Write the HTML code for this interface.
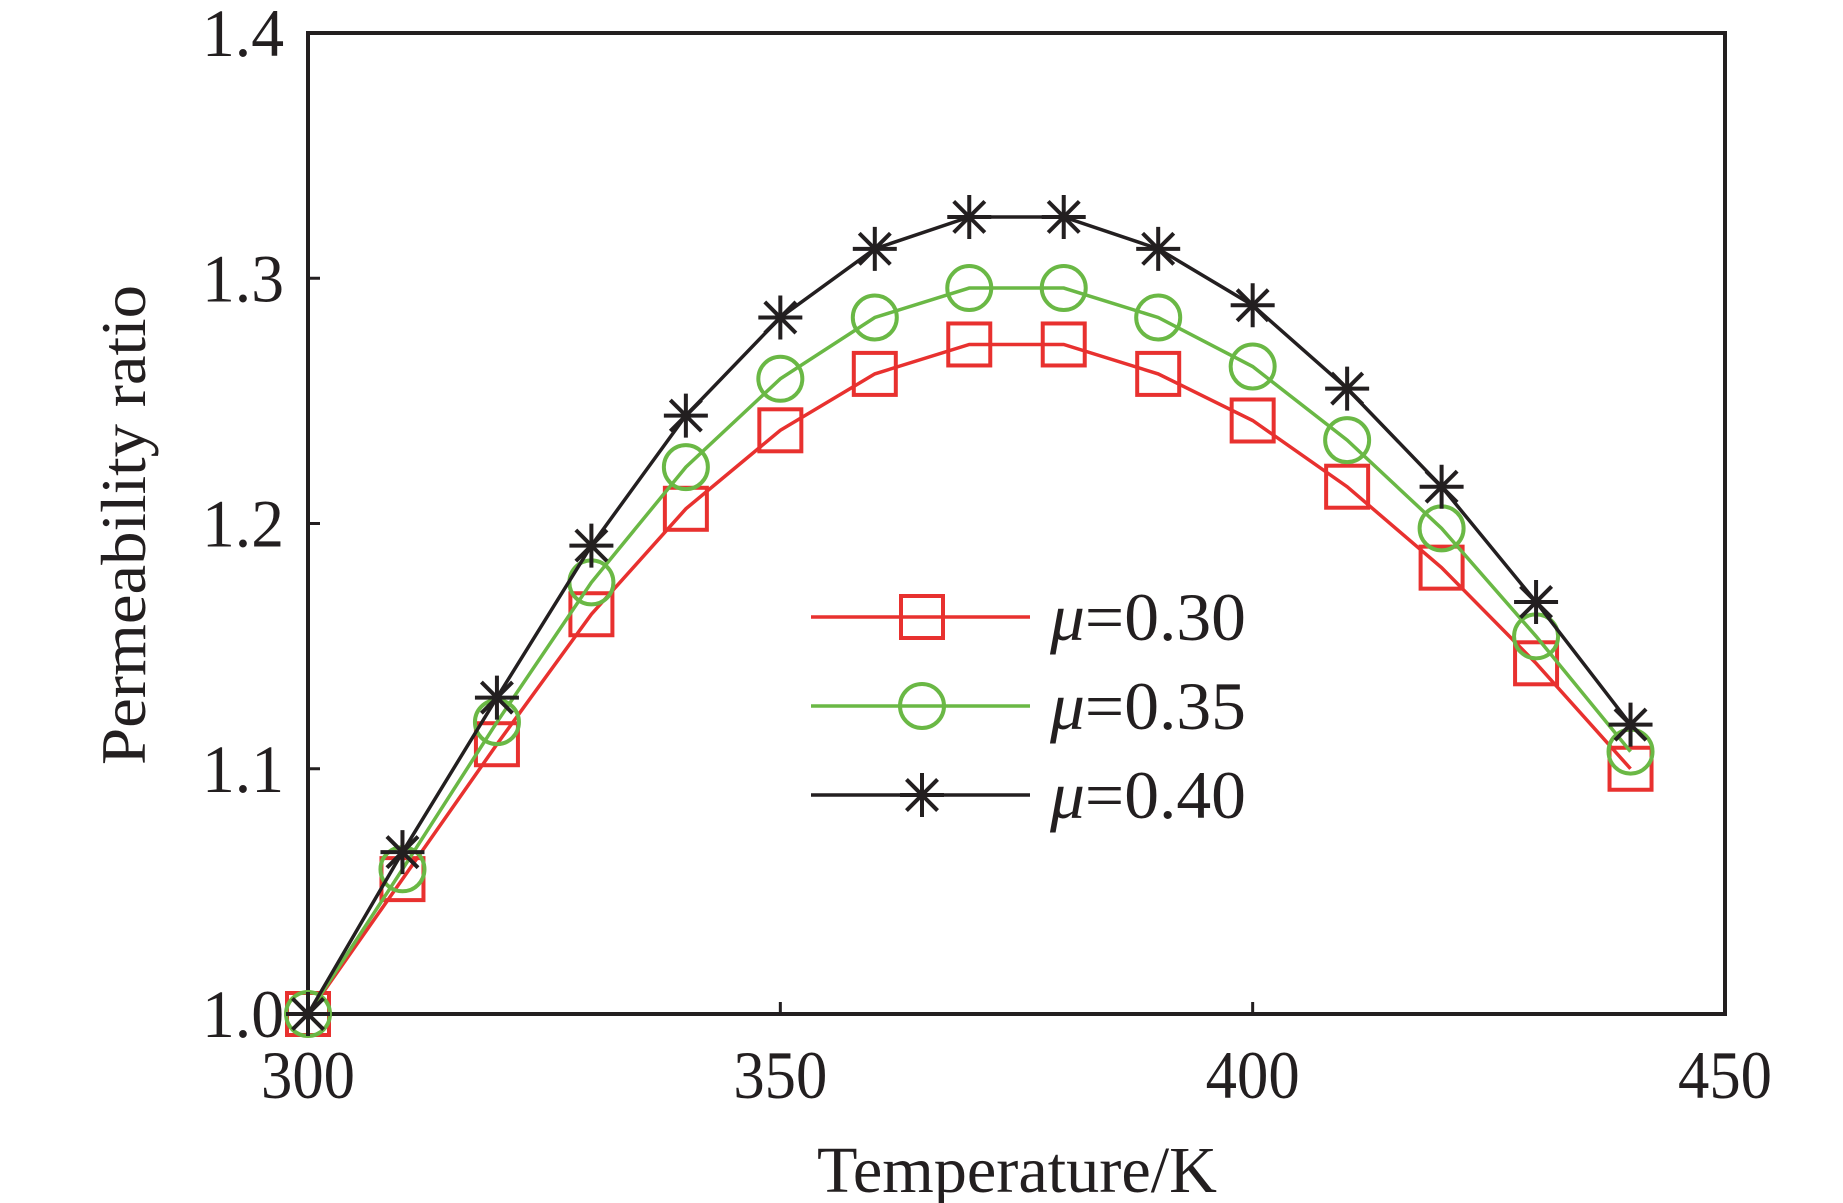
<!DOCTYPE html>
<html><head><meta charset="utf-8"><style>
body{margin:0;background:#fff}
svg{display:block}
text{font-family:"Liberation Serif",serif;fill:#231f20}
</style></head><body>
<svg id="chart" width="1843" height="1203" viewBox="0 0 1843 1203" xmlns="http://www.w3.org/2000/svg">
<g id="plot"></g>
</svg>
<script>
const temps=[300,310,320,330,340,350,360,370,380,390,400,410,420,430,440];
const mu30=[1.0,1.055,1.11,1.163,1.206,1.238,1.261,1.273,1.273,1.261,1.242,1.215,1.182,1.143,1.100];
const mu35=[1.0,1.059,1.119,1.176,1.223,1.259,1.284,1.296,1.296,1.284,1.264,1.234,1.198,1.154,1.107];
const mu40=[1.0,1.066,1.129,1.191,1.244,1.284,1.312,1.325,1.325,1.312,1.289,1.255,1.215,1.168,1.118];
const xTicks=[300,350,400,450];
const yTicks=[1.0,1.1,1.2,1.3,1.4];
const yTickLabels=["1.0","1.1","1.2","1.3","1.4"];
const seriesNames=["μ=0.30","μ=0.35","μ=0.40"];

const L=308,R=1725,T=33,B=1014;
const xS=v=>L+(v-300)/150*(R-L);
const yS=v=>B-(v-1.0)/0.4*(B-T);
const NS="http://www.w3.org/2000/svg";
const g=document.getElementById('plot');
function mk(tag,attrs,parent){const e=document.createElementNS(NS,tag);for(const k in attrs)e.setAttribute(k,attrs[k]);(parent||g).appendChild(e);return e;}

const frame=mk('rect',{x:L,y:T,width:R-L,height:B-T,fill:'none',stroke:'#231f20','stroke-width':4});



xTicks.forEach(v=>{
  const t=mk('line',{x1:xS(v),x2:xS(v),y1:B,y2:B-12,stroke:'#231f20','stroke-width':3});
  
  
  const l=mk('text',{x:xS(v),y:1098,'text-anchor':'middle','font-size':68,textLength:94,lengthAdjust:'spacingAndGlyphs'});
  l.textContent=v;
  
  
});
yTicks.forEach((v,i)=>{
  const t=mk('line',{x1:L,x2:L+12,y1:yS(v),y2:yS(v),stroke:'#231f20','stroke-width':3});
  
  
  const l=mk('text',{x:284,y:yS(v)+23,'text-anchor':'end','font-size':68,textLength:82,lengthAdjust:'spacingAndGlyphs'});
  l.textContent=yTickLabels[i];
  
  
});
const xt=mk('text',{x:1017,y:1192,'text-anchor':'middle','font-size':66,textLength:400,lengthAdjust:'spacingAndGlyphs'});
xt.textContent='Temperature/K';


const yt=mk('text',{x:0,y:0,'text-anchor':'middle','font-size':64,transform:'translate(145,525) rotate(-90)',textLength:480,lengthAdjust:'spacingAndGlyphs'});
yt.textContent='Permeability ratio';



function marker(type,cx,cy,color,parent){
  if(type==='sq') return mk('rect',{x:cx-21,y:cy-21,width:42,height:42,fill:'none',stroke:color,'stroke-width':4},parent);
  if(type==='ci') return mk('circle',{cx:cx,cy:cy,r:22,fill:'none',stroke:color,'stroke-width':4},parent);
  const s=mk('g',{},parent);
  const r=22,d=r*0.707;
  [[0,-r,0,r],[-r,0,r,0],[-d,-d,d,d],[-d,d,d,-d]].forEach(p=>mk('line',{x1:cx+p[0],y1:cy+p[1],x2:cx+p[2],y2:cy+p[3],stroke:color,'stroke-width':4},s));
  return s;
}
const series=[[mu30,'#e8312f','sq'],[mu35,'#6ab845','ci'],[mu40,'#231f20','st']];
series.forEach((s,si)=>{
  const grp=mk('g',{});
  
  
  const pts=temps.map((t,i)=>xS(t)+','+yS(s[0][i])).join(' ');
  const pl=mk('polyline',{points:pts,fill:'none',stroke:s[1],'stroke-width':3.5},grp);
  
  
  temps.forEach((t,i)=>{
    const m=marker(s[2],xS(t),yS(s[0][i]),s[1],grp);
    
    
  });
});
const legYs=[617,706,795];
const leg=mk('g',{});


series.forEach((s,i)=>{
  const e=mk('g',{},leg);
  
  
  mk('line',{x1:811,x2:1030,y1:legYs[i],y2:legYs[i],stroke:s[1],'stroke-width':3.5},e);
  marker(s[2],922,legYs[i],s[1],e);
  const tx=mk('text',{x:1050,y:legYs[i]+23,'font-size':68,textLength:196,lengthAdjust:'spacingAndGlyphs'},e);
  const it=mk('tspan',{'font-style':'italic'},tx);it.textContent='μ';
  const rest=mk('tspan',{},tx);rest.textContent=seriesNames[i].slice(1);
});
</script>
</body></html>
